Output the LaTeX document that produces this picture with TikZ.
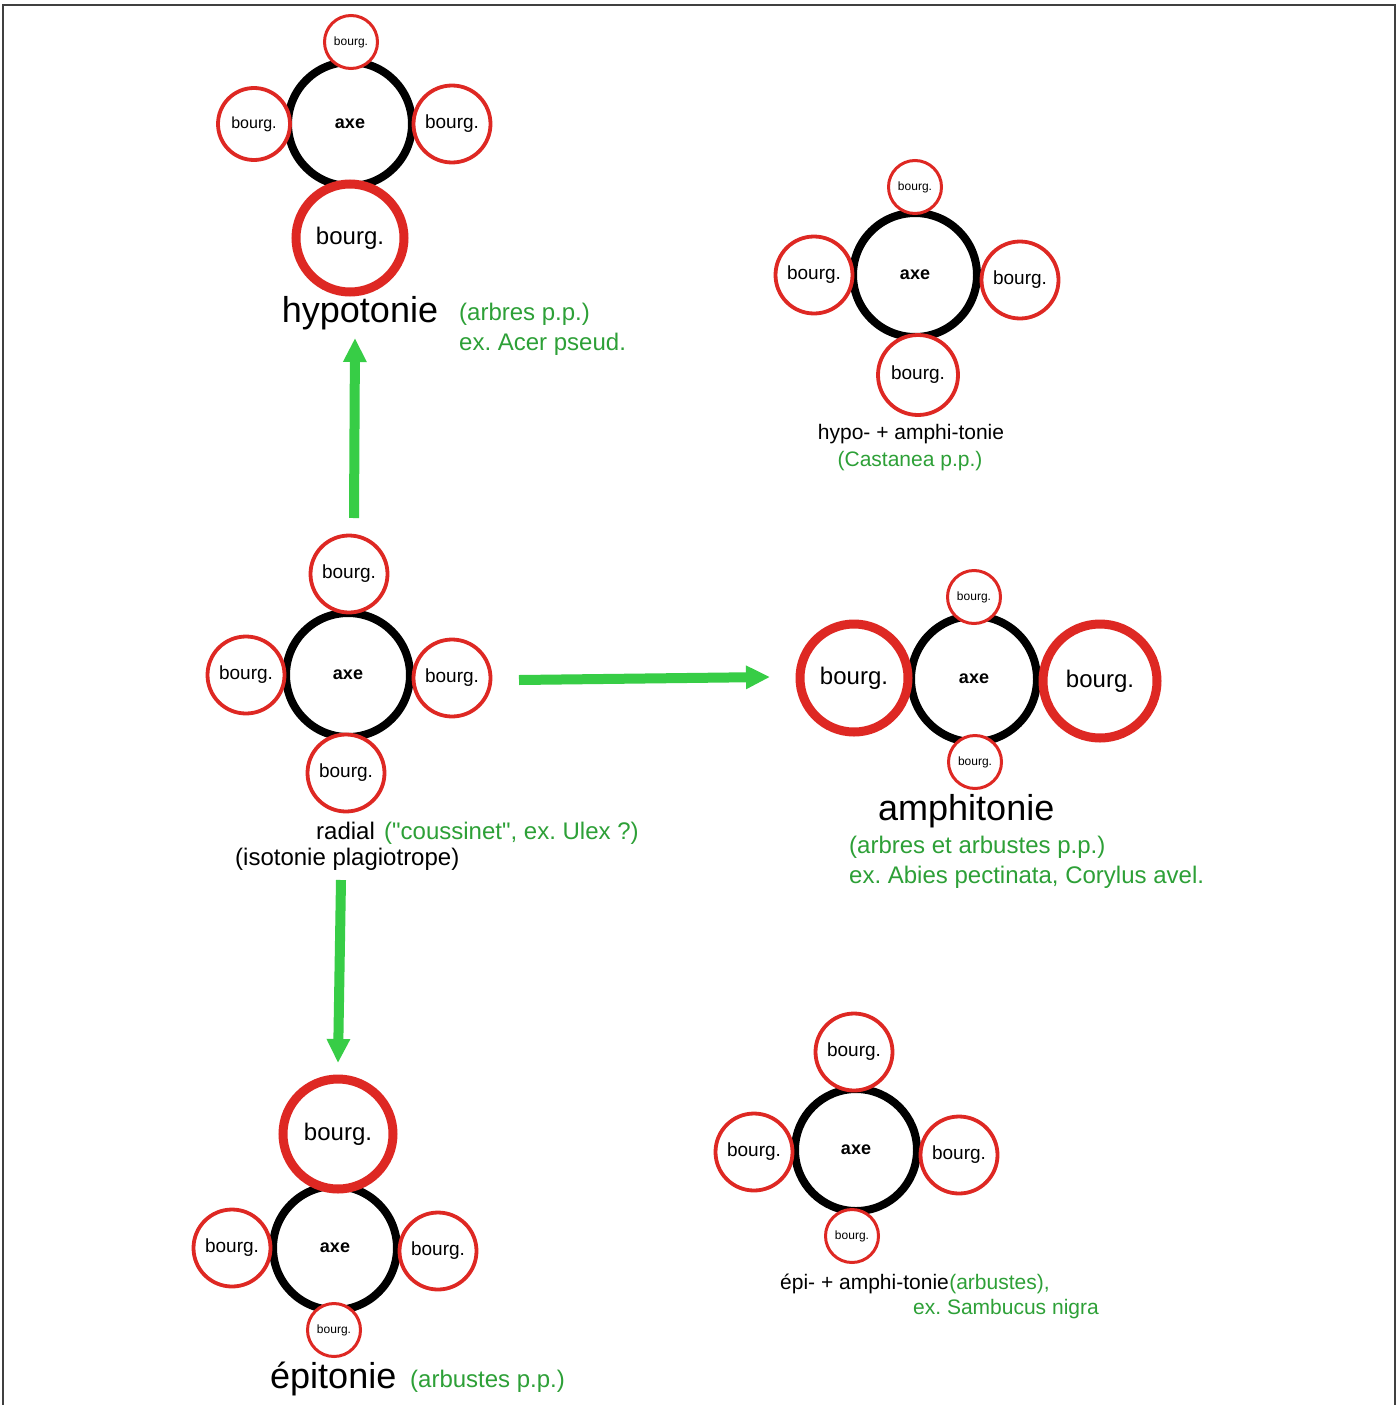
\documentclass[tikz,border=0pt]{standalone}
\usepackage{fontspec}
\setmainfont{Liberation Sans}[Ligatures=TeXOff]
\usetikzlibrary{arrows.meta}
\definecolor{budred}{RGB}{222,40,35}
\definecolor{arrowgreen}{RGB}{55,205,70}
\definecolor{notegreen}{RGB}{45,160,55}
\newcommand{\fs}[1]{\fontsize{#1}{#1}\selectfont}
\frenchspacing
\tikzset{
  axe/.style={circle, draw=black, line width=8pt, fill=white, minimum size=124pt,
    inner sep=0pt, font=\bfseries\fs{18}},
  budS/.style={circle, draw=budred, line width=3pt, fill=white, minimum size=53pt,
    inner sep=0pt, font=\fs{12}},
  budM/.style={circle, draw=budred, line width=3.8pt, fill=white, minimum size=77pt,
    inner sep=0pt, font=\fs{19}},
  budL/.style={circle, draw=budred, line width=9pt, fill=white, minimum size=108pt,
    inner sep=0pt, font=\fs{24}},
  title/.style={inner sep=0pt, font=\fs{36}},
  label/.style={inner sep=0pt, font=\fs{24}},
  small/.style={inner sep=0pt, font=\fs{21}},
  note/.style={inner sep=0pt, text=notegreen},
  garrow/.style={draw=arrowgreen, line width=10pt,
    -{Triangle[width=22pt,length=24pt]}, arrowgreen},
}
\begin{document}
\begin{tikzpicture}[x=1pt, y=-1pt]
\useasboundingbox (0,0) rectangle (1399,1405);
\fill[white] (0,0) rectangle (1399,1405);
% frame
\draw[line width=2pt, black!75] (3,1410) -- (3,5) -- (1395,5) -- (1395,1410);

% ---- hypotonie
\node[axe] (h-axe) at (350,124) {axe};
\node[budS] (h-top) at (351,42) {bourg.};
\node[budM, minimum size=72pt] (h-left) at (254,124) {\fs{16}bourg.};
\node[budM] (h-right) at (452,124) {bourg.};
\node[budL] (h-bot) at (350,238) {bourg.};
\node[title, anchor=base] (h-name) at (360,322) {hypotonie};
\node[label, note, anchor=base west] (h-note1) at (459,320) {(arbres p.p.)};
\node[label, note, anchor=base west] (h-note2) at (459,350) {ex. Acer pseud.};

% ---- hypo- + amphi-tonie
\node[axe] (ha-axe) at (915,275) {axe};
\node[budS] (ha-top) at (915,187) {bourg.};
\node[budM] (ha-left) at (814,275) {bourg.};
\node[budM] (ha-right) at (1020,280) {bourg.};
\node[budM, minimum size=80pt] (ha-bot) at (918,375) {bourg.};
\node[small, anchor=base] (ha-name) at (911,439) {hypo- + amphi-tonie};
\node[small, note, anchor=base] (ha-note) at (910,466) {(Castanea p.p.)};

% ---- radial
\node[axe] (r-axe) at (348,675) {axe};
\node[budM] (r-top) at (349,574) {bourg.};
\node[budM] (r-left) at (246,675) {bourg.};
\node[budM] (r-right) at (452,678) {bourg.};
\node[budM] (r-bot) at (346,773) {bourg.};
\node[label, anchor=base west] (r-name) at (316,839) {radial};
\node[label, note, anchor=base west] (r-note) at (384,839) {("coussinet", ex. Ulex ?)};
\node[label, anchor=base west] (r-name2) at (235,865) {(isotonie plagiotrope)};

% ---- amphitonie
\node[axe, minimum size=126pt] (a-axe) at (974,679) {axe};
\node[budS] (a-top) at (974,597) {bourg.};
\node[budL] (a-left) at (854,678) {bourg.};
\node[budL, minimum size=114pt] (a-right) at (1100,681) {bourg.};
\node[budS] (a-bot) at (975,762) {bourg.};
\node[title, anchor=base west] (a-name) at (878,820) {amphitonie};
\node[label, note, anchor=base west] (a-note1) at (849,853) {(arbres et arbustes p.p.)};
\node[label, note, anchor=base west] (a-note2) at (849,883) {ex. Abies pectinata, Corylus avel.};

% ---- épitonie
\node[axe] (e-axe) at (335,1248) {axe};
\node[budL, minimum size=110pt] (e-top) at (338,1134) {bourg.};
\node[budM] (e-left) at (232,1248) {bourg.};
\node[budM] (e-right) at (438,1251) {bourg.};
\node[budS] (e-bot) at (334,1330) {bourg.};
\node[title, anchor=base west] (e-name) at (270,1388) {épitonie};
\node[label, note, anchor=base west] (e-note) at (410,1387) {(arbustes p.p.)};

% ---- épi- + amphi-tonie
\node[axe, minimum size=122pt] (ea-axe) at (856,1150) {axe};
\node[budM] (ea-top) at (854,1052) {bourg.};
\node[budM] (ea-left) at (754,1152) {bourg.};
\node[budM] (ea-right) at (959,1155) {bourg.};
\node[budS] (ea-bot) at (852,1236) {bourg.};
\node[small, anchor=base west] (ea-name) at (780,1289) {épi- + amphi-tonie};
\node[small, note, anchor=base west] (ea-note1) at (ea-name.base east) {(arbustes),};
\node[small, note, anchor=base west] (ea-note2) at (913,1314) {ex. Sambucus nigra};

% ---- transitions from the radial form
\coordinate (up-from) at (354,518);
\coordinate (up-to) at (355,338);
\coordinate (right-from) at (519,680);
\coordinate (right-to) at (770,677);
\coordinate (down-from) at (341,880);
\coordinate (down-to) at (338,1063);
\draw[garrow] (up-from) -- (up-to);
\draw[garrow] (right-from) -- (right-to);
\draw[garrow] (down-from) -- (down-to);
\end{tikzpicture}
\end{document}
